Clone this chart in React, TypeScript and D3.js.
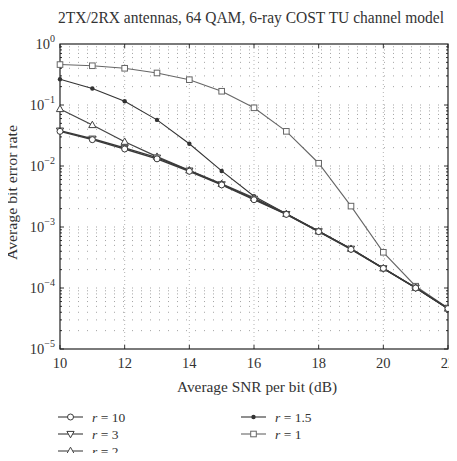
import React, { useRef, useEffect } from 'react';
import * as d3 from 'd3';

const snr = [10, 11, 12, 13, 14, 15, 16, 17, 18, 19, 20, 21, 22];

const berR10 = [0.037, 0.027, 0.019, 0.0131, 0.0082, 0.0049, 0.0028, 0.00161, 0.00084, 0.00043, 0.00021, 0.0001, 0.000046];
const berR3 = [0.038, 0.028, 0.0198, 0.0137, 0.0084, 0.005, 0.0029, 0.00163, 0.00085, 0.00044, 0.00021, 0.000101, 0.000046];
const berR2 = [0.086, 0.047, 0.025, 0.0142, 0.0085, 0.0051, 0.003, 0.00164, 0.00085, 0.00044, 0.00021, 0.000101, 0.000046];
const berR15 = [0.265, 0.186, 0.115, 0.057, 0.0232, 0.0083, 0.0032, 0.00165, 0.00086, 0.00044, 0.00021, 0.000102, 0.000046];
const berR1 = [0.46, 0.44, 0.4, 0.335, 0.26, 0.168, 0.09, 0.037, 0.0111, 0.0022, 0.000385, 0.000107, 0.000047];

const xTicks = [10, 12, 14, 16, 18, 20, 22];
const yExponents = [0, -1, -2, -3, -4, -5];

type Marker = 'circle' | 'triDown' | 'triUp' | 'dot' | 'square';

const series: { label: string; values: number[]; marker: Marker; color: string; width: number }[] = [
  { label: '10', values: berR10, marker: 'circle', color: '#3a3a3a', width: 1.4 },
  { label: '3', values: berR3, marker: 'triDown', color: '#3a3a3a', width: 1.4 },
  { label: '2', values: berR2, marker: 'triUp', color: '#444', width: 1.3 },
  { label: '1.5', values: berR15, marker: 'dot', color: '#333', width: 1.1 },
  { label: '1', values: berR1, marker: 'square', color: '#666', width: 1.1 },
];

const legendPos = [
  { col: 0, row: 0 },
  { col: 0, row: 1 },
  { col: 0, row: 2 },
  { col: 1, row: 0 },
  { col: 1, row: 1 },
];

const FONT = '"Liberation Serif", "DejaVu Serif", serif';

function drawMarker(g: d3.Selection<SVGGElement, unknown, null, undefined>, type: Marker, x: number, y: number, color: string) {
  if (type === 'circle') {
    g.append('circle').attr('cx', x).attr('cy', y).attr('r', 3)
      .attr('fill', '#fff').attr('stroke', color).attr('stroke-width', 1);
  } else if (type === 'square') {
    g.append('rect').attr('x', x - 2.8).attr('y', y - 2.8).attr('width', 5.6).attr('height', 5.6)
      .attr('fill', '#fff').attr('stroke', color).attr('stroke-width', 1);
  } else if (type === 'dot') {
    g.append('circle').attr('cx', x).attr('cy', y).attr('r', 2.2).attr('fill', color);
  } else if (type === 'triUp') {
    g.append('path').attr('d', `M${x},${y - 3.8}L${x + 3.6},${y + 2.6}L${x - 3.6},${y + 2.6}Z`)
      .attr('fill', '#fff').attr('stroke', color).attr('stroke-width', 1);
  } else {
    g.append('path').attr('d', `M${x},${y + 3.8}L${x + 3.6},${y - 2.6}L${x - 3.6},${y - 2.6}Z`)
      .attr('fill', '#fff').attr('stroke', color).attr('stroke-width', 1);
  }
}

const BerChart: React.FC = () => {
  const svgRef = useRef<SVGSVGElement>(null);
  const width = 457;
  const height = 461;
  const margin = { top: 44, right: 9, bottom: 112, left: 60 };
  const innerWidth = width - margin.left - margin.right;
  const innerHeight = height - margin.top - margin.bottom;

  useEffect(() => {
    if (!svgRef.current) return;
    const svg = d3.select(svgRef.current);
    svg.selectAll('*').remove();

    const xScale = d3.scaleLinear().domain([10, 22]).range([0, innerWidth]);
    const yScale = d3.scaleLog().domain([1e-5, 1]).range([innerHeight, 0]);

    // title
    svg.append('text')
      .attr('x', 58)
      .attr('y', 23)
      .attr('font-family', FONT)
      .attr('font-size', '16px')
      .attr('fill', '#333')
      .attr('textLength', 386)
      .attr('lengthAdjust', 'spacingAndGlyphs')
      .text('2TX/2RX antennas, 64 QAM, 6-ray COST TU channel model');

    const g = svg.append('g').attr('transform', `translate(${margin.left},${margin.top})`);

    // grid
    const minorY: number[] = [];
    for (let e = -5; e < 0; e++) {
      for (let m = 1; m <= 9; m++) minorY.push(m * Math.pow(10, e));
    }
    g.selectAll('.hgrid')
      .data(minorY.filter(v => v > 1e-5))
      .enter().append('line')
      .attr('x1', 0).attr('x2', innerWidth)
      .attr('y1', d => yScale(d)).attr('y2', d => yScale(d))
      .attr('stroke', '#999').attr('stroke-width', 0.9)
      .attr('stroke-dasharray', '1,8');

    g.selectAll('.vgrid')
      .data(xTicks.slice(1, -1))
      .enter().append('line')
      .attr('x1', d => xScale(d)).attr('x2', d => xScale(d))
      .attr('y1', 0).attr('y2', innerHeight)
      .attr('stroke', '#aaa').attr('stroke-width', 0.9)
      .attr('stroke-dasharray', '1,3');

    // ticks
    xTicks.forEach(t => {
      const x = xScale(t);
      g.append('line').attr('x1', x).attr('x2', x).attr('y1', innerHeight).attr('y2', innerHeight - 4).attr('stroke', '#333');
      g.append('line').attr('x1', x).attr('x2', x).attr('y1', 0).attr('y2', 4).attr('stroke', '#333');
    });
    minorY.forEach(v => {
      const y = yScale(v);
      const len = Math.abs(Math.log10(v) - Math.round(Math.log10(v))) < 1e-9 ? 4 : 2;
      g.append('line').attr('x1', 0).attr('x2', len).attr('y1', y).attr('y2', y).attr('stroke', '#333');
      g.append('line').attr('x1', innerWidth).attr('x2', innerWidth - len).attr('y1', y).attr('y2', y).attr('stroke', '#333');
    });

    // frame
    g.append('rect')
      .attr('width', innerWidth).attr('height', innerHeight)
      .attr('fill', 'none').attr('stroke', '#222').attr('stroke-width', 1.2);

    // tick labels
    xTicks.forEach(t => {
      g.append('text')
        .attr('x', xScale(t)).attr('y', innerHeight + 19)
        .attr('text-anchor', 'middle')
        .attr('font-family', FONT).attr('font-size', '14.5px').attr('fill', '#333')
        .text(t);
    });
    yExponents.forEach(e => {
      const txt = g.append('text')
        .attr('x', -5).attr('y', yScale(Math.pow(10, e)) + 5)
        .attr('text-anchor', 'end')
        .attr('font-family', FONT).attr('font-size', '14.5px').attr('fill', '#333');
      txt.append('tspan').text('10');
      txt.append('tspan').attr('dy', -7).attr('font-size', '10px').text(e === 0 ? '0' : `\u2212${-e}`);
    });

    // axis titles
    svg.append('text')
      .attr('x', 177)
      .attr('y', margin.top + innerHeight + 43)
      .attr('font-family', FONT).attr('font-size', '15px').attr('fill', '#333')
      .attr('textLength', 160)
      .attr('lengthAdjust', 'spacingAndGlyphs')
      .text('Average SNR per bit (dB)');
    svg.append('text')
      .attr('transform', `translate(17,260) rotate(-90)`)
      .attr('font-family', FONT).attr('font-size', '15px').attr('fill', '#333')
      .attr('textLength', 135)
      .attr('lengthAdjust', 'spacingAndGlyphs')
      .text('Average bit error rate');

    // lines + markers
    const line = d3.line<number>()
      .x((_, i) => xScale(snr[i]))
      .y(d => yScale(d));

    series.slice().reverse().forEach(s => {
      g.append('path')
        .datum(s.values)
        .attr('d', line)
        .attr('fill', 'none')
        .attr('stroke', s.color)
        .attr('stroke-width', s.width);
    });
    series.slice().reverse().forEach(s => {
      const mg = g.append('g');
      s.values.forEach((v, i) => drawMarker(mg, s.marker, xScale(snr[i]), yScale(v), s.color));
    });

    // legend
    const legend = svg.append('g');
    series.forEach((s, i) => {
      const p = legendPos[i];
      const x0 = p.col === 0 ? 58 : 241;
      const y0 = 417 + p.row * 17;
      const lg = legend.append('g');
      lg.append('line').attr('x1', x0).attr('x2', x0 + 25).attr('y1', y0).attr('y2', y0)
        .attr('stroke', s.color).attr('stroke-width', 1.1);
      drawMarker(lg, s.marker, x0 + 12.5, y0, s.color);
      const t = lg.append('text')
        .attr('x', x0 + 34).attr('y', y0 + 4.5)
        .attr('font-family', FONT).attr('font-size', '13.5px').attr('fill', '#333');
      t.append('tspan').attr('font-style', 'italic').text('r');
      t.append('tspan').text(` = ${s.label}`);
    });
  }, []);

  return <svg ref={svgRef} width={width} height={height} style={{ display: 'block' }} />;
};

export default function App() {
  return (
    <div style={{ margin: -8 }}>
      <BerChart />
    </div>
  );
}
